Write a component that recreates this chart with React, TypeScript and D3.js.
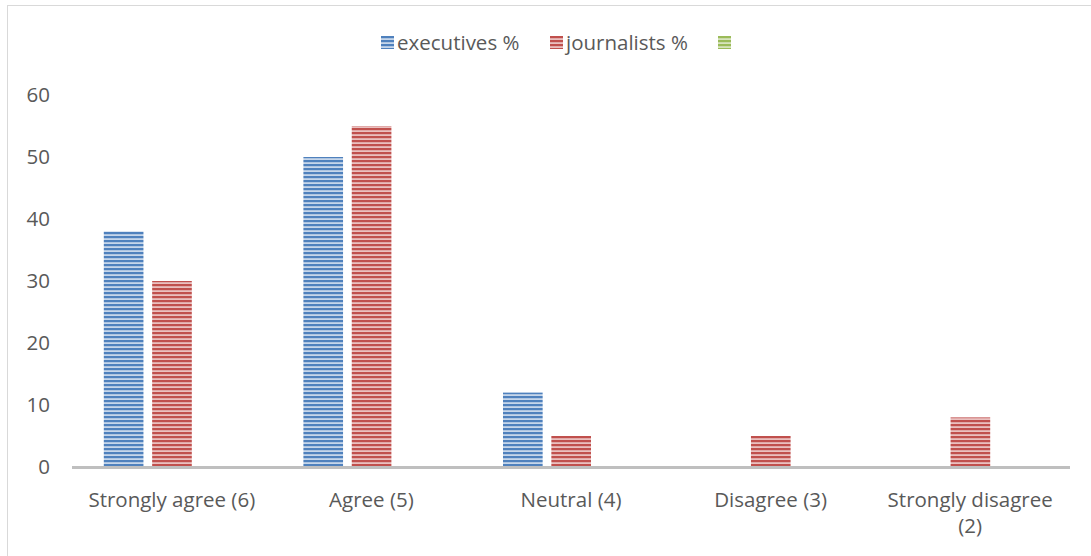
import React, { useEffect, useRef } from 'react';
import * as d3 from 'd3';

const categories = ['Strongly agree (6)', 'Agree (5)', 'Neutral (4)', 'Disagree (3)', 'Strongly disagree (2)'];
const executives = [38, 50, 12, 0, 0];
const journalists = [30, 55, 5, 5, 8];
const yTicks = [0, 10, 20, 30, 40, 50, 60];
const legendLabels = ['executives %', 'journalists %', ''];

const App = () => {
  const ref = useRef<SVGSVGElement>(null);

  useEffect(() => {
    const svg = d3.select(ref.current);
    svg.selectAll('*').remove();
    const width = 1091;
    const height = 556;
    const font = 'Open Sans, Noto Sans, sans-serif';
    const fontSize = 20.5;
    const textColor = '#595959';

    // motifs à rayures horizontales
    const defs = svg.append('defs');
    const stripes = [
      { id: 'blue', dark: '#4f81bd', light: '#c6d6ea' },
      { id: 'red', dark: '#c0504d', light: '#eac0bf' },
      { id: 'green', dark: '#9bbb59', light: '#d7e4bd' },
    ];
    stripes.forEach(s => {
      const p = defs.append('pattern')
        .attr('id', 'p-' + s.id)
        .attr('patternUnits', 'userSpaceOnUse')
        .attr('width', 4).attr('height', 4);
      p.append('rect').attr('width', 4).attr('height', 4).attr('fill', s.light);
      p.append('rect').attr('width', 4).attr('height', 2.2).attr('fill', s.dark);
    });

    svg.append('rect')
      .attr('x', 7.5).attr('y', 5.5)
      .attr('width', width).attr('height', height)
      .attr('fill', 'white').attr('stroke', '#d9d9d9');

    const x = d3.scaleBand().domain(categories).range([72, 1070]);
    const y = d3.scaleLinear().domain([0, 60]).range([467, 95]);
    const inner = d3.scaleBand().domain(['executives', 'journalists']).range([0, 88]).paddingInner(0.18);

    // axe Y
    svg.append('g').selectAll('text')
      .data(yTicks).enter().append('text')
      .attr('x', 50).attr('y', d => y(d) + 7)
      .attr('text-anchor', 'end')
      .attr('font-family', font).attr('font-size', fontSize)
      .attr('fill', textColor)
      .text(d => d);

    // barres
    const groups = svg.append('g').selectAll('g')
      .data(categories).enter().append('g')
      .attr('transform', d => `translate(${(x(d) as number) + x.bandwidth() / 2 - 68},0)`);

    groups.append('rect')
      .attr('x', inner('executives') as number)
      .attr('y', (d, i) => y(executives[i]))
      .attr('width', inner.bandwidth())
      .attr('height', (d, i) => y(0) - y(executives[i]))
      .attr('fill', 'url(#p-blue)');

    groups.append('rect')
      .attr('x', inner('journalists') as number)
      .attr('y', (d, i) => y(journalists[i]))
      .attr('width', inner.bandwidth())
      .attr('height', (d, i) => y(0) - y(journalists[i]))
      .attr('fill', 'url(#p-red)');

    // ligne de base
    svg.append('line')
      .attr('x1', 72).attr('x2', 1070)
      .attr('y1', y(0) + 0.5).attr('y2', y(0) + 0.5)
      .attr('stroke', '#bfbfbf').attr('stroke-width', 3);

    // étiquettes X (la dernière sur deux lignes)
    categories.forEach(d => {
      const cx = (x(d) as number) + x.bandwidth() / 2;
      const parts = d === 'Strongly disagree (2)' ? ['Strongly disagree', '(2)'] : [d];
      parts.forEach((p, i) => {
        svg.append('text')
          .attr('x', cx)
          .attr('y', 507 + i * 26)
          .attr('text-anchor', 'middle')
          .attr('font-family', font).attr('font-size', fontSize)
          .attr('fill', textColor)
          .text(p);
      });
    });

    // légende
    const legendX = [381, 550, 718];
    const fills = ['url(#p-blue)', 'url(#p-red)', 'url(#p-green)'];
    legendLabels.forEach((l, i) => {
      svg.append('rect')
        .attr('x', legendX[i]).attr('y', 36)
        .attr('width', 13).attr('height', 13)
        .attr('fill', fills[i]);
      svg.append('text')
        .attr('x', legendX[i] + 16).attr('y', 50)
        .attr('font-family', font).attr('font-size', fontSize)
        .attr('fill', textColor)
        .text(l);
    });
  }, []);

  return (
    <svg ref={ref} width={1091} height={556}
      style={{ position: 'absolute', left: 0, top: 0, background: 'white' }} />
  );
};

export default App;
